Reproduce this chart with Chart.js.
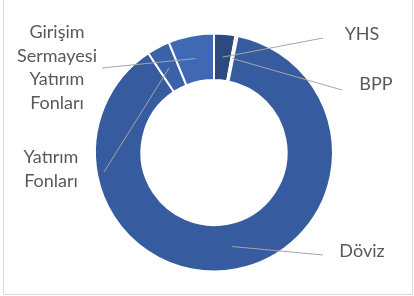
<!DOCTYPE html>
<html>
<head>
<meta charset="utf-8">
<script src="https://cdn.jsdelivr.net/npm/chart.js@4.4.1/dist/chart.umd.min.js"></script>
<style>
  html, body { margin: 0; padding: 0; background: #fff; }
  #wrap { position: relative; width: 414px; height: 296px; }
</style>
</head>
<body>
<div id="wrap"><canvas id="myChart"></canvas></div>
<script>
// Datos del gráfico
const categories = ['YHS', 'BPP', 'Döviz', 'Yatırım Fonları', 'Girişim Sermayesi Yatırım Fonları'];
const values = [2.9, 0.3, 87.5, 3.1, 6.2];
const sliceColors = ['#2c4a80', '#335694', '#365c9f', '#3a62a9', '#3f69b4'];

// Texto de cada etiqueta (líneas) y dónde va
const labelLines = [
  ['YHS'],
  ['BPP'],
  ['Döviz'],
  ['Yatırım', 'Fonları'],
  ['Girişim', 'Sermayesi', 'Yatırım', 'Fonları']
];
const labelLayout = [
  { tx: 362, ty: 34, lx: 323, ly: 38 },
  { tx: 376, ty: 84, lx: 342, ly: 90 },
  { tx: 362, ty: 251, lx: 323, ly: 255 },
  { tx: 51, ty: 157, lx: 104, ly: 172 },
  { tx: 57, ty: 32, lx: 102, ly: 68 }
];

// Etiquetas con líneas guía
const leaderLabels = {
  id: 'leaderLabels',
  afterDatasetsDraw(chart) {
    const ctx = chart.ctx;
    const arcs = chart.getDatasetMeta(0).data;
    ctx.save();
    arcs.forEach((arc, i) => {
      const p = arc.getCenterPoint();
      const pos = labelLayout[i];
      ctx.strokeStyle = '#a6a6a6';
      ctx.lineWidth = 1;
      ctx.beginPath();
      ctx.moveTo(p.x, p.y);
      ctx.lineTo(pos.lx, pos.ly);
      ctx.stroke();
      ctx.fillStyle = '#595959';
      ctx.font = '18px Lato';
      ctx.textAlign = 'center';
      ctx.textBaseline = 'middle';
      labelLines[i].forEach((t, k) => {
        ctx.fillText(t, pos.tx, pos.ty + k * 23.7);
      });
    });
    // marco del gráfico
    ctx.strokeStyle = '#d9d9d9';
    ctx.strokeRect(3.5, -1, 409, 295.5);
    ctx.restore();
  }
};

const ctx = document.getElementById('myChart').getContext('2d');

const chart = new Chart(ctx, {
  type: 'doughnut',
  data: {
    labels: categories,
    datasets: [{
      data: values,
      backgroundColor: sliceColors,
      borderColor: '#ffffff',
      borderWidth: 2
    }]
  },
  options: {
    responsive: true,
    maintainAspectRatio: false,
    animation: false,
    cutout: '61%',
    layout: { padding: { left: 94, right: 80, top: 31, bottom: 22 } },
    plugins: {
      legend: { display: false },
      tooltip: { enabled: false }
    }
  },
  plugins: [leaderLabels]
});
</script>
</body>
</html>
